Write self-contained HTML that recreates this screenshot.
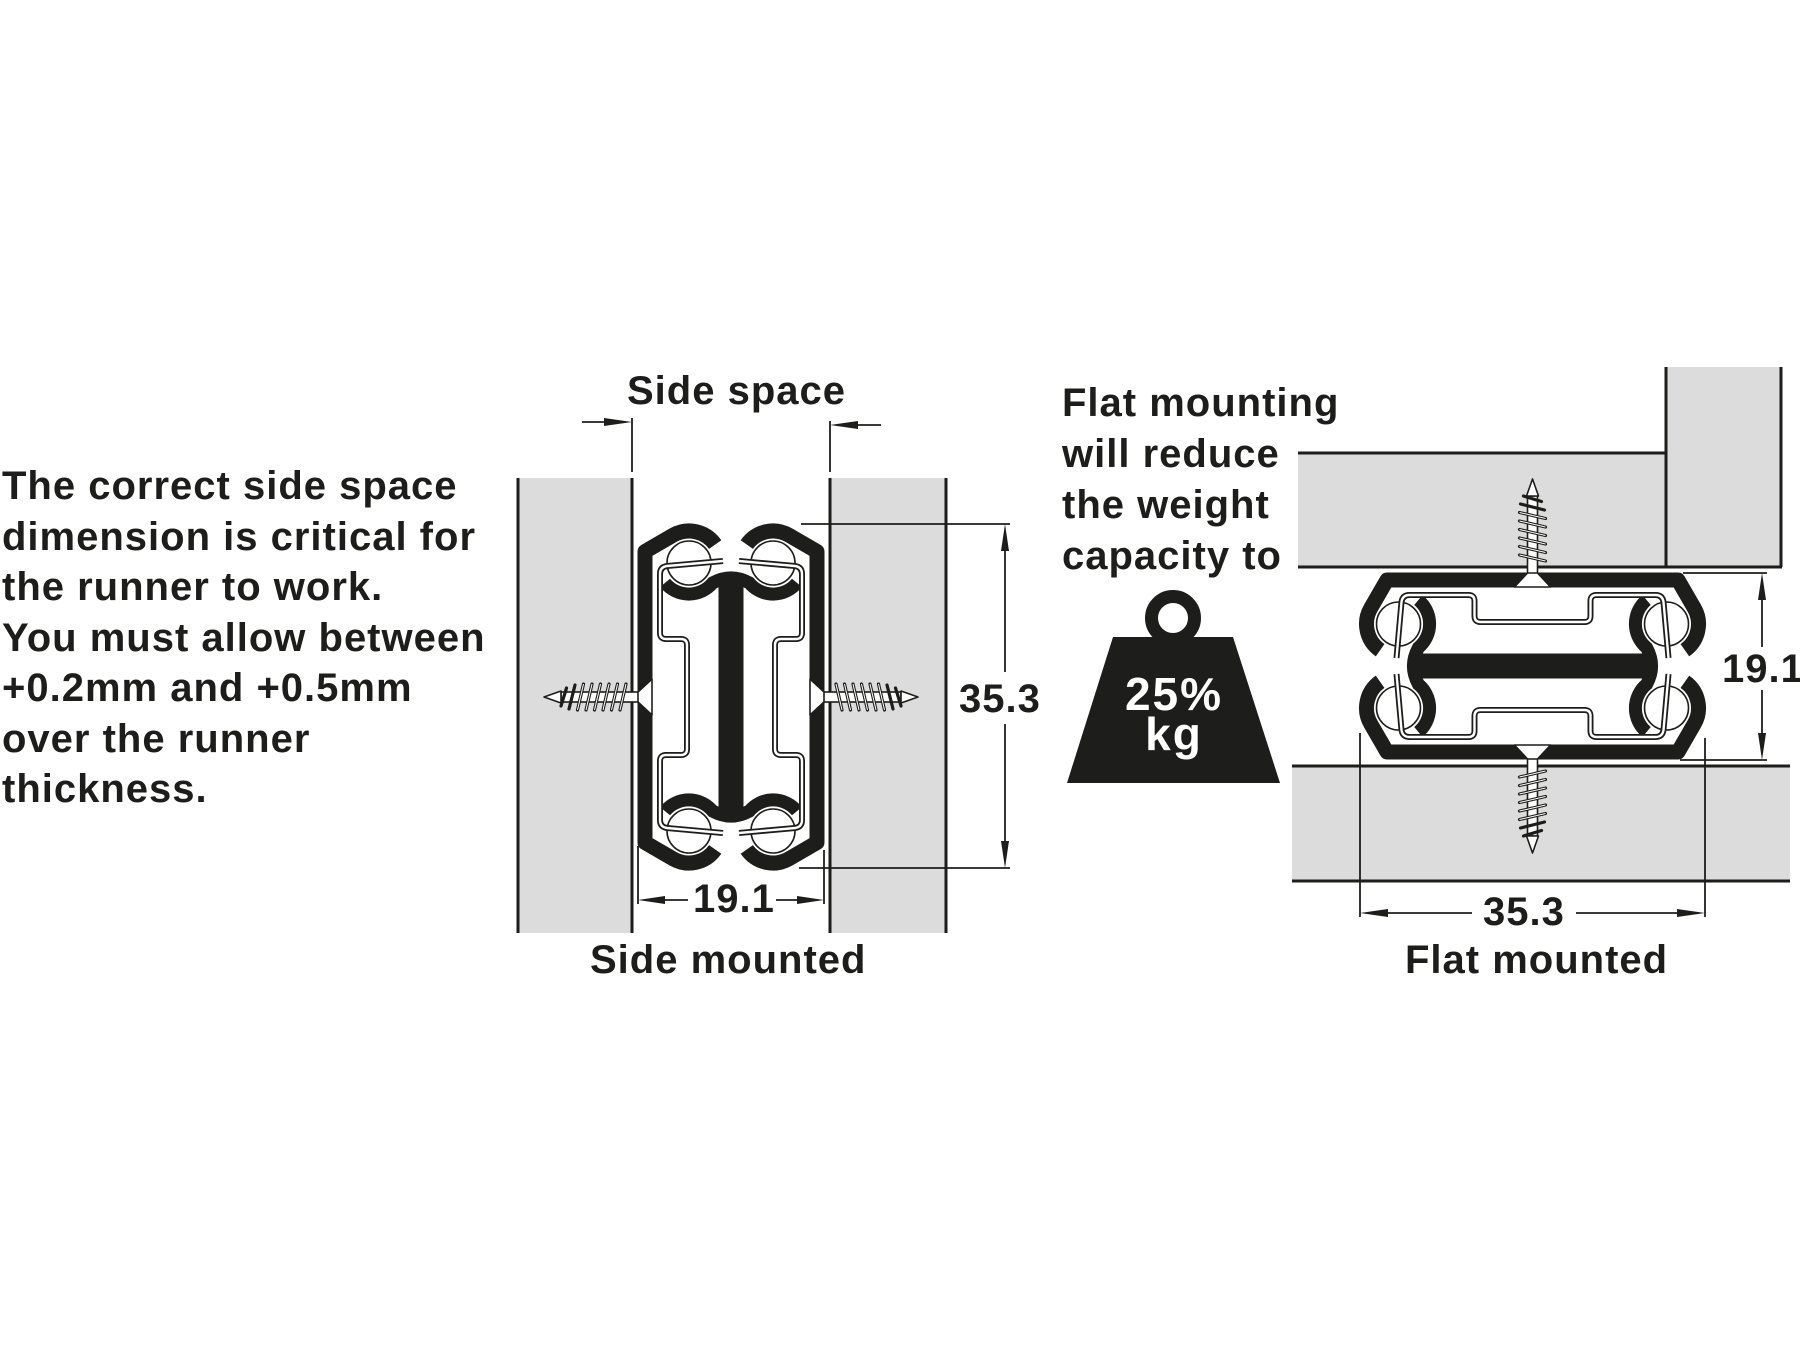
<!DOCTYPE html>
<html>
<head>
<meta charset="utf-8">
<style>
  html,body{margin:0;padding:0;background:#fff;}
  body{width:1800px;height:1350px;overflow:hidden;}
  svg{display:block;}
  .t{font-family:"Liberation Sans",Arial,Helvetica,sans-serif;font-weight:bold;font-size:40px;letter-spacing:1px;fill:#1d1d1b;}
  .w{font-family:"Liberation Sans",Arial,Helvetica,sans-serif;font-weight:bold;font-size:46px;letter-spacing:2px;fill:#fff;}
</style>
</head>
<body>
<svg width="1800" height="1350" viewBox="0 0 1800 1350" xmlns="http://www.w3.org/2000/svg">
  <defs>
    <g id="screw">
      <rect x="-170" y="-5" width="78" height="10" fill="#fff" stroke="#1d1d1b" stroke-width="1.6"/>
      <polygon points="-170,-6 -187,0 -170,6" fill="#fff" stroke="#1d1d1b" stroke-width="1.6" stroke-linejoin="round"/>
      <g stroke="#1d1d1b" stroke-width="3.2" fill="none" stroke-linecap="round">
        <path d="M-105 -13 L-111 13"/>
        <path d="M-113.5 -13 L-119.5 13"/>
        <path d="M-122 -13 L-128 13"/>
        <path d="M-130.5 -13 L-136.5 13"/>
        <path d="M-139 -13 L-145 13"/>
        <path d="M-147.5 -13 L-153.5 13"/>
        <path d="M-156 -12 L-162 12"/>
        <path d="M-164.5 -9 L-170 9"/>
      </g>
      <g stroke="#fff" stroke-width="1" fill="none">
        <path d="M-105 -13 L-111 13"/>
        <path d="M-113.5 -13 L-119.5 13"/>
        <path d="M-122 -13 L-128 13"/>
        <path d="M-130.5 -13 L-136.5 13"/>
        <path d="M-139 -13 L-145 13"/>
        <path d="M-147.5 -13 L-153.5 13"/>
      </g>
      <polygon points="-79,-18 -79,18 -93,5 -93,-5" fill="#fff" stroke="#1d1d1b" stroke-width="1.6" stroke-linejoin="round"/>
    </g>
    <g id="half">
      <path d="M -15.8 -152.4 A 32 32 0 0 0 -58 -161.7 L -86 -145.5 L -86 145.5 L -58 161.7 A 32 32 0 0 0 -15.8 152.4" fill="none" stroke="#1d1d1b" stroke-width="15" stroke-linejoin="round"/>
      <path d="M -8 -136 L -64 -131 Q -71 -130 -71 -123 L -71 -64 Q -71 -58 -65 -58 L -50 -58 Q -44 -58 -44 -52 L -44 52 Q -44 58 -50 58 L -65 58 Q -71 58 -71 64 L -71 123 Q -71 130 -64 131 L -8 136" fill="none" stroke="#1d1d1b" stroke-width="6" stroke-linejoin="round"/>
      <path d="M -8 -136 L -64 -131 Q -71 -130 -71 -123 L -71 -64 Q -71 -58 -65 -58 L -50 -58 Q -44 -58 -44 -52 L -44 52 Q -44 58 -50 58 L -65 58 Q -71 58 -71 64 L -71 123 Q -71 130 -64 131 L -8 136" fill="none" stroke="#fff" stroke-width="2.4" stroke-linejoin="round"/>
      <use href="#screw"/>
    </g>
    <g id="runner">
      <g fill="#fff" stroke="#1d1d1b" stroke-width="1.6">
        <circle cx="-42" cy="-134" r="22"/>
        <circle cx="42" cy="-134" r="22"/>
        <circle cx="-42" cy="134" r="22"/>
        <circle cx="42" cy="134" r="22"/>
      </g>
      <rect x="-12.5" y="-118" width="25" height="236" fill="#1d1d1b"/>
      <path d="M -66 -114.1 A 31 31 0 0 0 -18.3 -114.1 Q 0 -124 18.3 -114.1 A 31 31 0 0 0 66 -114.1" fill="none" stroke="#1d1d1b" stroke-width="13"/>
      <path d="M -66 -114.1 A 31 31 0 0 0 -18.3 -114.1 Q 0 -124 18.3 -114.1 A 31 31 0 0 0 66 -114.1" fill="none" stroke="#1d1d1b" stroke-width="13" transform="scale(1,-1)"/>
      <use href="#half"/>
      <use href="#half" transform="scale(-1,1)"/>
    </g>
  </defs>

  <!-- LEFT PARAGRAPH -->
  <text class="t" x="2" y="499">The correct side space</text>
  <text class="t" x="2" y="550">dimension is critical for</text>
  <text class="t" x="2" y="600">the runner to work.</text>
  <text class="t" x="2" y="651">You must allow between</text>
  <text class="t" x="2" y="701">+0.2mm and +0.5mm</text>
  <text class="t" x="2" y="752">over the runner</text>
  <text class="t" x="2" y="802">thickness.</text>

  <!-- SIDE MOUNTED: panels -->
  <rect x="518" y="478" width="114" height="455" fill="#dcdcdc"/>
  <rect x="830" y="478" width="116" height="455" fill="#dcdcdc"/>
  <g stroke="#1d1d1b" stroke-width="3">
    <line x1="518" y1="478" x2="518" y2="933"/>
    <line x1="632" y1="478" x2="632" y2="933"/>
    <line x1="830" y1="478" x2="830" y2="933"/>
    <line x1="946" y1="478" x2="946" y2="933"/>
  </g>

  <!-- Side space dimension -->
  <text class="t" x="627" y="404">Side space</text>
  <g stroke="#1d1d1b" stroke-width="1.8">
    <line x1="632" y1="418" x2="632" y2="472"/>
    <line x1="830" y1="421" x2="830" y2="472"/>
    <line x1="582" y1="422" x2="608" y2="422"/>
    <line x1="854" y1="425" x2="881" y2="425"/>
  </g>
  <polygon points="632,422 604,418 604,426" fill="#1d1d1b"/>
  <polygon points="830,425 858,421 858,429" fill="#1d1d1b"/>

  <!-- side runner -->
  <use href="#runner" transform="translate(731,697)"/>

  <!-- 35.3 side dimension -->
  <g stroke="#1d1d1b" stroke-width="1.8">
    <line x1="801" y1="524" x2="1010" y2="524"/>
    <line x1="799" y1="868" x2="1010" y2="868"/>
    <line x1="1005" y1="548" x2="1005" y2="672"/>
    <line x1="1005" y1="724" x2="1005" y2="844"/>
  </g>
  <polygon points="1005,524 1001,551 1009,551" fill="#1d1d1b"/>
  <polygon points="1005,868 1001,841 1009,841" fill="#1d1d1b"/>
  <text class="t" x="959" y="712">35.3</text>

  <!-- 19.1 side dimension -->
  <g stroke="#1d1d1b" stroke-width="1.8">
    <line x1="638" y1="846" x2="638" y2="904"/>
    <line x1="824" y1="850" x2="824" y2="904"/>
    <line x1="662" y1="900" x2="688" y2="900"/>
    <line x1="776" y1="900" x2="800" y2="900"/>
  </g>
  <polygon points="638,900 665,896 665,904" fill="#1d1d1b"/>
  <polygon points="824,900 797,896 797,904" fill="#1d1d1b"/>
  <text class="t" x="693" y="912">19.1</text>

  <text class="t" x="590" y="973">Side mounted</text>

  <!-- FLAT MOUNTED -->
  <text class="t" x="1062" y="416">Flat mounting</text>
  <text class="t" x="1062" y="467">will reduce</text>
  <text class="t" x="1062" y="518">the weight</text>
  <text class="t" x="1062" y="569">capacity to</text>

  <!-- weight icon -->
  <circle cx="1173" cy="618" r="21.5" fill="none" stroke="#1d1d1b" stroke-width="13"/>
  <polygon points="1113,637 1233,637 1280,783 1067,783" fill="#1d1d1b"/>
  <text class="w" x="1174" y="710" text-anchor="middle">25%</text>
  <text class="w" x="1174" y="750" text-anchor="middle">kg</text>

  <!-- boards -->
  <path d="M1298 453 H1666 V367 H1781 V567 H1298 Z" fill="#dcdcdc"/>
  <rect x="1292" y="766" width="498" height="115" fill="#dcdcdc"/>
  <g stroke="#1d1d1b" stroke-width="3">
    <line x1="1298" y1="453" x2="1666" y2="453"/>
    <line x1="1666" y1="367" x2="1666" y2="567"/>
    <line x1="1781" y1="367" x2="1781" y2="567"/>
    <line x1="1298" y1="567" x2="1782" y2="567"/>
    <line x1="1292" y1="766" x2="1790" y2="766"/>
    <line x1="1292" y1="881" x2="1790" y2="881"/>
  </g>

  <!-- flat runner -->
  <use href="#runner" transform="translate(1532.5,666) rotate(90)"/>

  <!-- 19.1 flat dimension -->
  <g stroke="#1d1d1b" stroke-width="1.8">
    <line x1="1683" y1="573" x2="1767" y2="573"/>
    <line x1="1680" y1="760" x2="1767" y2="760"/>
    <line x1="1762" y1="597" x2="1762" y2="647"/>
    <line x1="1762" y1="690" x2="1762" y2="736"/>
  </g>
  <polygon points="1762,573 1758,600 1766,600" fill="#1d1d1b"/>
  <polygon points="1762,760 1758,733 1766,733" fill="#1d1d1b"/>
  <text class="t" x="1722" y="682">19.1</text>

  <!-- 35.3 flat dimension -->
  <g stroke="#1d1d1b" stroke-width="1.8">
    <line x1="1360" y1="733" x2="1360" y2="917"/>
    <line x1="1705" y1="738" x2="1705" y2="917"/>
    <line x1="1385" y1="913" x2="1472" y2="913"/>
    <line x1="1576" y1="913" x2="1680" y2="913"/>
  </g>
  <polygon points="1360,913 1388,909 1388,917" fill="#1d1d1b"/>
  <polygon points="1705,913 1677,909 1677,917" fill="#1d1d1b"/>
  <text class="t" x="1483" y="925">35.3</text>

  <text class="t" x="1405" y="973">Flat mounted</text>
</svg>
</body>
</html>
